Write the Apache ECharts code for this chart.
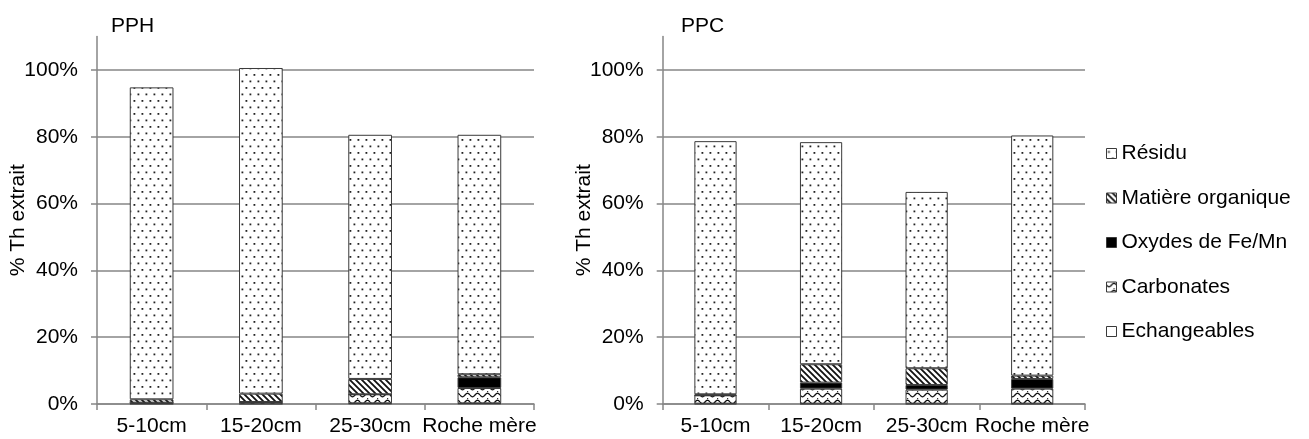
<!DOCTYPE html>
<html>
<head>
<meta charset="utf-8">
<script src="https://cdn.jsdelivr.net/npm/echarts@6/dist/echarts.min.js"></script>
<style>
html,body{margin:0;padding:0;background:#fff;}
#chart{width:1309px;height:439px;}
</style>
</head>
<body>
<div id="chart"></div>
<script>
// ---- data ----
var categories = ['5-10cm', '15-20cm', '25-30cm', 'Roche mère'];
var seriesNames = ['Echangeables', 'Carbonates', 'Oxydes de Fe/Mn', 'Matière organique', 'Résidu'];
var titles = ['PPH', 'PPC'];
var yTicks = [0, 20, 40, 60, 80, 100];

// PPH (% Th extrait)
var pphEchangeables = [0.1, 0.1, 0.2, 0.2];
var pphCarbonates   = [0.3, 0.5, 2.7, 4.6];
var pphOxydes       = [0.0, 0.0, 0.0, 3.2];
var pphMatiere      = [1.0, 2.5, 4.6, 0.9];
var pphResidu       = [93.4, 97.5, 73.1, 71.7];

// PPC (% Th extrait)
var ppcEchangeables = [0.1, 0.1, 0.1, 0.1];
var ppcCarbonates   = [2.5, 4.5, 4.2, 4.5];
var ppcOxydes       = [0.0, 1.8, 1.4, 2.9];
var ppcMatiere      = [0.3, 5.5, 5.0, 1.0];
var ppcResidu       = [75.8, 66.5, 52.8, 71.9];

// ---- patterns ----
function makeCanvas(w, h) {
  var c = document.createElement('canvas');
  c.width = w; c.height = h;
  return c;
}
function dotsPattern() {
  var c = makeCanvas(8, 13), g = c.getContext('2d');
  g.fillStyle = '#fff'; g.fillRect(0, 0, 8, 13);
  g.fillStyle = '#222';
  g.fillRect(1.5, 2.5, 1.8, 1.8);
  g.fillRect(5.5, 9, 1.8, 1.8);
  return c;
}
function hatchPattern() {
  var s = 6;
  var c = makeCanvas(s, s), g = c.getContext('2d');
  g.fillStyle = '#fff'; g.fillRect(0, 0, s, s);
  g.strokeStyle = '#111'; g.lineWidth = 1.8;
  g.beginPath();
  g.moveTo(-1, -1); g.lineTo(s + 1, s + 1);
  g.moveTo(-1, s - 1); g.lineTo(1, s + 1);
  g.moveTo(s - 1, -1); g.lineTo(s + 1, 1);
  g.stroke();
  return c;
}
function wavePattern() {
  var w = 10, h = 7;
  var c = makeCanvas(w, h), g = c.getContext('2d');
  g.fillStyle = '#fff'; g.fillRect(0, 0, w, h);
  g.strokeStyle = '#111'; g.lineWidth = 1.3;
  g.beginPath();
  for (var x = 0; x <= w; x += 0.5) {
    var y = 3 + 1.8 * Math.sin(x / w * Math.PI * 2);
    if (x === 0) g.moveTo(x, y); else g.lineTo(x, y);
  }
  g.stroke();
  g.fillStyle = '#333';
  g.fillRect(7, 6, 1.2, 1);
  return c;
}
var fills = {
  'Echangeables': '#ffffff',
  'Carbonates': { image: wavePattern(), repeat: 'repeat' },
  'Oxydes de Fe/Mn': '#000000',
  'Matière organique': { image: hatchPattern(), repeat: 'repeat' },
  'Résidu': { image: dotsPattern(), repeat: 'repeat' }
};

var FONT = '"Liberation Sans", Arial, sans-serif';
var FS = 21;
var GRAY = '#868686';

var chart = echarts.init(document.getElementById('chart'), null, { renderer: 'canvas' });

var grids = [
  { left: 97, top: 36.6, width: 437, height: 367.4 },
  { left: 662.7, top: 36.6, width: 422.3, height: 367.4 }
];

function xAxis(i) {
  return {
    type: 'category', gridIndex: i, data: categories,
    axisLine: { lineStyle: { color: GRAY, width: 1.5 } },
    axisTick: { show: true, length: 6, inside: false, alignWithLabel: false, lineStyle: { color: GRAY, width: 1.5 } },
    axisLabel: { color: '#000', fontSize: FS, fontFamily: FONT, margin: 12, interval: 0 },
    splitLine: { show: false }
  };
}
function yAxis(i) {
  return {
    type: 'value', gridIndex: i, min: 0, max: 110, interval: 20,
    name: '% Th extrait', nameLocation: 'middle', nameRotate: 90, nameGap: 68,
    nameMoveOverlap: false,
    nameTextStyle: { color: '#000', fontSize: FS, fontFamily: FONT },
    axisLine: { show: true, lineStyle: { color: GRAY, width: 1.5 } },
    axisTick: { show: true, length: 6, inside: false, customValues: yTicks, lineStyle: { color: GRAY, width: 1.5 } },
    axisLabel: { color: '#000', fontSize: FS, fontFamily: FONT, margin: 19, customValues: yTicks,
      formatter: function (v) { return v + '%'; } },
    splitLine: { show: true, lineStyle: { color: GRAY, width: 1.5 } }
  };
}

var dataSets = [
  [pphEchangeables, pphCarbonates, pphOxydes, pphMatiere, pphResidu],
  [ppcEchangeables, ppcCarbonates, ppcOxydes, ppcMatiere, ppcResidu]
];

var series = [];
for (var gi = 0; gi < 2; gi++) {
  for (var si = 0; si < seriesNames.length; si++) {
    series.push({
      type: 'bar', name: seriesNames[si], stack: 'total' + gi,
      xAxisIndex: gi, yAxisIndex: gi, barWidth: '40%',
      data: dataSets[gi][si],
      itemStyle: { color: fills[seriesNames[si]], borderColor: '#3a3a3a', borderWidth: 1 },
      emphasis: { disabled: true },
      animation: false
    });
  }
}

chart.setOption({
  animation: false,
  backgroundColor: '#fff',
  title: [
    { text: titles[0], left: 106, top: 11, textStyle: { fontSize: FS, fontWeight: 'normal', color: '#000', fontFamily: FONT } },
    { text: titles[1], left: 676, top: 11, textStyle: { fontSize: FS, fontWeight: 'normal', color: '#000', fontFamily: FONT } }
  ],
  legend: {
    orient: 'vertical', left: 1106, top: 143, padding: 0,
    data: seriesNames.slice().reverse(),
    itemWidth: 10, itemHeight: 10, itemGap: 23.5,
    icon: 'rect',
    textStyle: { fontSize: FS, fontFamily: FONT, color: '#000', lineHeight: 21 },
    itemStyle: { borderColor: '#3a3a3a', borderWidth: 1 },
    selectedMode: false
  },
  grid: grids,
  xAxis: [xAxis(0), xAxis(1)],
  yAxis: [yAxis(0), yAxis(1)],
  series: series
});
</script>
</body>
</html>
